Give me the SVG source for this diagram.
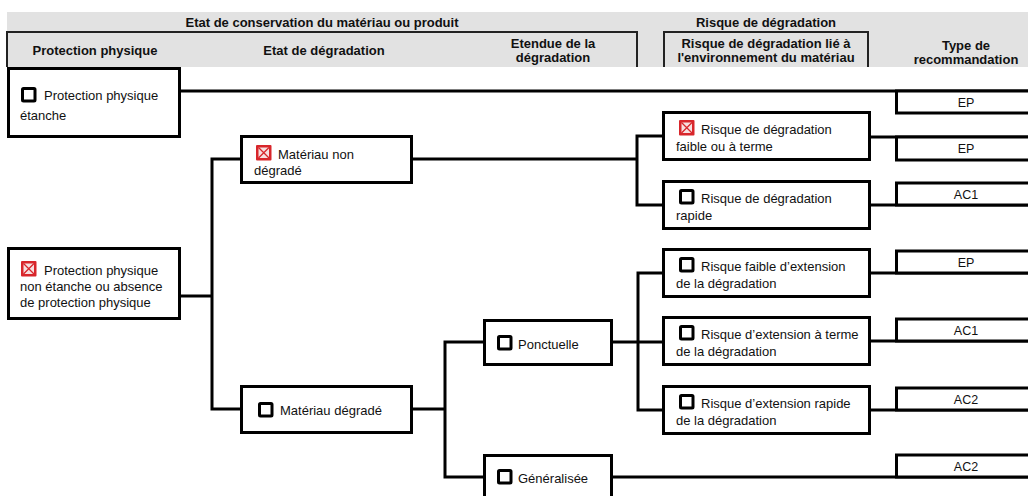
<svg xmlns="http://www.w3.org/2000/svg" width="1028" height="496" viewBox="0 0 1028 496">
<defs>
<style>
.hd{font-family:"Liberation Sans",Arial,sans-serif;font-size:13px;font-weight:bold;fill:#111;text-anchor:middle}
.hl{fill:none;stroke:#222;stroke-width:2}
.box{fill:#fff;stroke:#000;stroke-width:3}
.t{font-family:"Liberation Sans",Arial,sans-serif;font-size:13px;fill:#111}
.rt{font-family:"Liberation Sans",Arial,sans-serif;font-size:12.5px;fill:#111;text-anchor:middle}
.ln{fill:none;stroke:#000;stroke-width:3}
.cb{fill:#fff;stroke:#000;stroke-width:3}
.cr{fill:#d8262b}
.ci{fill:#f6e0e0}
.cx{stroke:#d8262b;stroke-width:1.3}
</style>
<g id="box-empty"><rect class="cb" x="1.5" y="1.5" width="12.5" height="12.5" rx="1"/></g>
<g id="box-checked"><rect class="cr" x="0" y="0" width="15.5" height="15.5" rx="1"/><rect class="ci" x="2.5" y="2.5" width="10.5" height="10.5"/><path class="cx" d="M2.5 2.5L13 13M13 2.5L2.5 13"/></g>
</defs>
<rect width="1028" height="496" fill="#fff"/>
<g id="header">
<rect x="7" y="12" width="1021" height="55" fill="#e2e2e2"/>
<path class="hl" d="M7 67V32H637V67"/>
<path class="hl" d="M664 67V32H868V67"/>
<text class="hd" x="322" y="27">Etat de conservation du matériau ou produit</text>
<text class="hd" x="766" y="27">Risque de dégradation</text>
<text class="hd" x="95" y="55">Protection physique</text>
<text class="hd" x="324" y="55">Etat de dégradation</text>
<text class="hd" x="553" y="48">Etendue de la</text>
<text class="hd" x="553" y="62">dégradation</text>
<text class="hd" x="766" y="48">Risque de dégradation lié à</text>
<text class="hd" x="766" y="62">l'environnement du matériau</text>
<text class="hd" x="966" y="50">Type de</text>
<text class="hd" x="966" y="64">recommandation</text>
</g>
<g id="connectors">
<path class="ln" d="M180 91H1030"/>
<path class="ln" d="M180 296H212M241 159H212V409H241"/>
<path class="ln" d="M412 159H637M663 136H637V205H663"/>
<path class="ln" d="M870 137H1030"/>
<path class="ln" d="M870 205H1030"/>
<path class="ln" d="M412 409H445M484 342H445V477H484"/>
<path class="ln" d="M612 342H663M663 273H638V410H663"/>
<path class="ln" d="M870 273H1030"/>
<path class="ln" d="M870 341H1030"/>
<path class="ln" d="M870 410H1030"/>
<path class="ln" d="M612 477H1030"/>
</g>
<g id="n-pp-etanche">
<rect class="box" x="8.5" y="68.5" width="171" height="68"/>
<use href="#box-empty" x="21" y="87"/>
<text class="t" x="44" y="100">Protection physique</text>
<text class="t" x="20" y="120">étanche</text>
</g>
<g id="n-pp-non-etanche">
<rect class="box" x="8.5" y="248.5" width="171" height="70"/>
<use href="#box-checked" x="21" y="261"/>
<text class="t" x="44" y="275">Protection physique</text>
<text class="t" x="20" y="291">non étanche ou absence</text>
<text class="t" x="20" y="307">de protection physique</text>
</g>
<g id="n-mat-non-degrade">
<rect class="box" x="241.5" y="136.5" width="170" height="46"/>
<use href="#box-checked" x="256" y="145"/>
<text class="t" x="278" y="159">Matériau non</text>
<text class="t" x="254" y="175">dégradé</text>
</g>
<g id="n-mat-degrade">
<rect class="box" x="241.5" y="386.5" width="170" height="46"/>
<use href="#box-empty" x="258" y="402"/>
<text class="t" x="280" y="415">Matériau dégradé</text>
</g>
<g id="n-ponctuelle">
<rect class="box" x="484.5" y="320.5" width="127" height="44"/>
<use href="#box-empty" x="497" y="335"/>
<text class="t" x="518" y="349">Ponctuelle</text>
</g>
<g id="n-generalisee">
<rect class="box" x="484.5" y="455.5" width="127" height="50"/>
<use href="#box-empty" x="497" y="469"/>
<text class="t" x="518" y="483">Généralisée</text>
</g>
<g id="n-risque-faible-terme">
<rect class="box" x="663.5" y="112.5" width="206" height="47"/>
<use href="#box-checked" x="679" y="120"/>
<text class="t" x="701" y="134">Risque de dégradation</text>
<text class="t" x="676" y="151">faible ou à terme</text>
</g>
<g id="n-risque-rapide">
<rect class="box" x="663.5" y="181.5" width="206" height="47"/>
<use href="#box-empty" x="679" y="189"/>
<text class="t" x="701" y="203">Risque de dégradation</text>
<text class="t" x="676" y="220">rapide</text>
</g>
<g id="n-ext-faible">
<rect class="box" x="663.5" y="249.5" width="206" height="47"/>
<use href="#box-empty" x="679" y="257"/>
<text class="t" x="701" y="271">Risque faible d’extension</text>
<text class="t" x="676" y="288">de la dégradation</text>
</g>
<g id="n-ext-terme">
<rect class="box" x="663.5" y="317.5" width="206" height="47"/>
<use href="#box-empty" x="679" y="325"/>
<text class="t" x="701" y="339">Risque d’extension à terme</text>
<text class="t" x="676" y="356">de la dégradation</text>
</g>
<g id="n-ext-rapide">
<rect class="box" x="663.5" y="386.5" width="206" height="47"/>
<use href="#box-empty" x="679" y="394"/>
<text class="t" x="701" y="408">Risque d’extension rapide</text>
<text class="t" x="676" y="425">de la dégradation</text>
</g>
<g id="r-ep1">
<rect class="box" x="896.5" y="91" width="140" height="22"/>
<text class="rt" x="966" y="107">EP</text>
</g>
<g id="r-ep2">
<rect class="box" x="896.5" y="137" width="140" height="23"/>
<text class="rt" x="966" y="153">EP</text>
</g>
<g id="r-ac1a">
<rect class="box" x="896.5" y="183" width="140" height="22"/>
<text class="rt" x="966" y="199">AC1</text>
</g>
<g id="r-ep3">
<rect class="box" x="896.5" y="251" width="140" height="22"/>
<text class="rt" x="966" y="267">EP</text>
</g>
<g id="r-ac1b">
<rect class="box" x="896.5" y="319" width="140" height="22"/>
<text class="rt" x="966" y="335">AC1</text>
</g>
<g id="r-ac2a">
<rect class="box" x="896.5" y="388" width="140" height="22"/>
<text class="rt" x="966" y="404">AC2</text>
</g>
<g id="r-ac2b">
<rect class="box" x="896.5" y="455" width="140" height="22"/>
<text class="rt" x="966" y="471">AC2</text>
</g>
</svg>
